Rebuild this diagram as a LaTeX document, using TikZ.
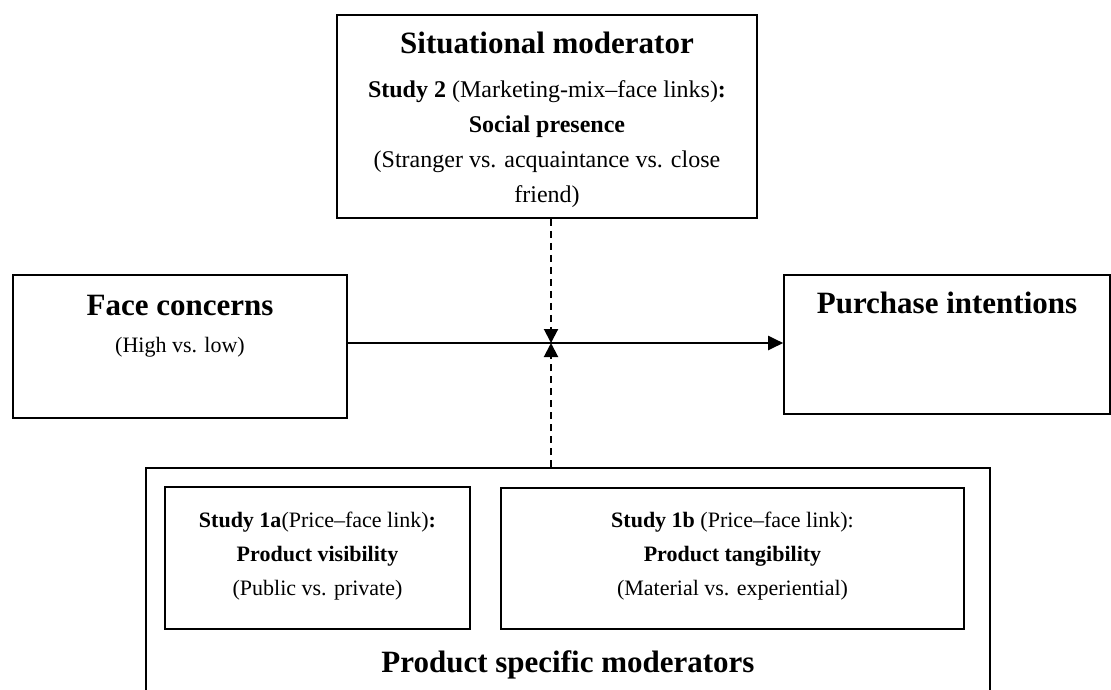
\documentclass[tikz,border=0pt]{standalone}
\usepackage{fontspec}
\setmainfont{Liberation Serif}
\usetikzlibrary{arrows.meta,positioning}

\begin{document}
\begin{tikzpicture}[x=1pt,y=-1pt,
  box/.style={draw,rectangle,line width=1.6pt,inner sep=0pt},
  head/.style={font=\fontsize{31}{36}\selectfont\bfseries,anchor=base,inner sep=0pt},
  body/.style={font=\fontsize{22}{34}\selectfont,align=center,anchor=north,inner sep=0pt},
  link/.style={line width=2pt,-{Triangle[length=15pt,width=14pt]}},
  modlink/.style={line width=2pt,dash pattern=on 7pt off 5pt,-{Triangle[length=14pt,width=14pt]}}]

  \useasboundingbox (0,0) rectangle (1111,689);
  \clip (0,0) rectangle (1111,689);

  % boxes
  \node[box,minimum width=420,minimum height=203] (situ) at (547,116.5) {};
  \node[box,minimum width=334,minimum height=143] (face) at (180,346.5) {};
  \node[box,minimum width=326,minimum height=139] (purch) at (947,344.5) {};
  \node[box,minimum width=844,minimum height=240] (prod) at (568,588) {};
  \node[box,minimum width=305,minimum height=142] (vis) at (317.5,558) {};
  \node[box,minimum width=463,minimum height=141] (tang) at (732.5,558.5) {};

  % texts
  \node[head] (situt) at (547,53) {Situational moderator};
  \node[body,font=\fontsize{24}{35}\selectfont] (situb) at (547,80) {\textbf{Study 2} (Marketing-mix--face links)\textbf{:}\\
    \textbf{Social presence}\\ (Stranger vs. acquaintance vs. close\\ friend)};
  \node[head] (facet) at (180,315) {Face concerns};
  \node[body,anchor=base] (faceb) at (180,352) {(High vs. low)};
  \node[head] (purcht) at (947,313) {Purchase intentions};
  \node[body] (visb) at (317.5,512) {\textbf{Study 1a}(Price--face link)\textbf{:}\\
    \textbf{Product visibility}\\ (Public vs. private)};
  \node[body] (tangb) at (732.5,512) {\textbf{Study 1b} (Price--face link):\\
    \textbf{Product tangibility}\\ (Material vs. experiential)};
  \node[head] (prodt) at (568,672) {Product specific moderators};

  % links
  \coordinate (mod) at (551,343);
  \draw[link] (face.east |- mod) -- (purch.west |- mod);
  \draw[modlink] (mod |- situ.south) -- (mod);
  \draw[modlink] (mod |- prod.north) -- (mod);
\end{tikzpicture}
\end{document}
